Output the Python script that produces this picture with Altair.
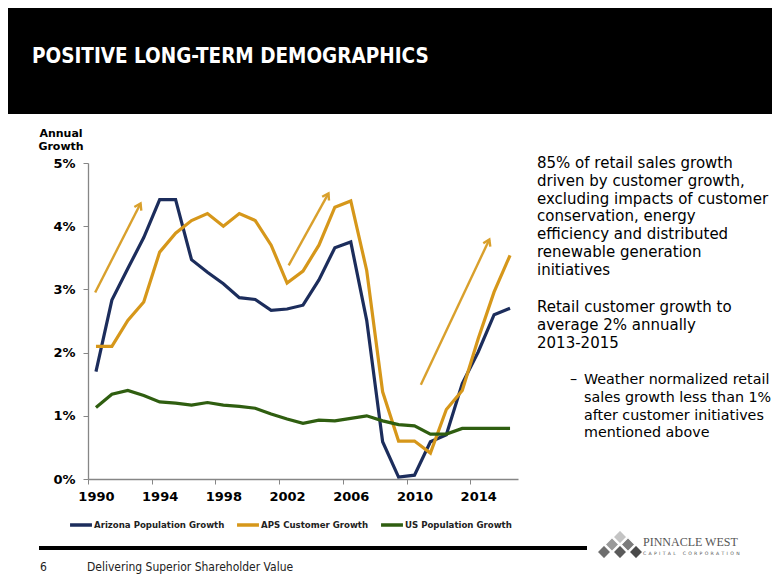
import math
import altair as alt
import pandas as pd

# ---------------- data ----------------
years = list(range(1990, 2017))
arizona = [1.70, 2.83, 3.33, 3.82, 4.42, 4.42, 3.47, 3.27, 3.09, 2.87, 2.84, 2.67, 2.69, 2.75,
           3.15, 3.66, 3.75, 2.51, 0.59, 0.03, 0.06, 0.59, 0.70, 1.51, 2.01, 2.60, 2.70]
aps = [2.10, 2.10, 2.51, 2.80, 3.59, 3.89, 4.09, 4.20, 4.00, 4.20, 4.09, 3.70, 3.10, 3.29,
       3.70, 4.30, 4.40, 3.30, 1.38, 0.60, 0.60, 0.41, 1.10, 1.40, 2.22, 2.96, 3.54]
us = [1.13, 1.34, 1.40, 1.32, 1.22, 1.20, 1.17, 1.21, 1.17, 1.15, 1.12, 1.03, 0.95, 0.88,
      0.93, 0.92, 0.96, 1.00, 0.92, 0.86, 0.84, 0.71, 0.71, 0.80, 0.80, 0.80, 0.80]
series_names = ["Arizona Population Growth", "APS Customer Growth", "US Population Growth"]
series_colors = ["#1C2D5C", "#D6971A", "#2F5E10"]

# trend arrows (year, % growth)
arrow_x1 = [1989.95, 2002.1, 2010.4]
arrow_y1 = [2.95, 3.38, 1.49]
arrow_x2 = [1992.8, 2004.6, 2014.7]
arrow_y2 = [4.36, 4.52, 3.79]

y_ticks = [0, 1, 2, 3, 4, 5]
para1 = ["85% of retail sales growth", "driven by customer growth,", "excluding impacts of customer",
         "conservation, energy", "efficiency and distributed", "renewable generation", "initiatives"]
para2 = ["Retail customer growth to", "average 2% annually", "2013-2015"]
para3 = ["Weather normalized retail", "sales growth less than 1%", "after customer initiatives",
         "mentioned above"]

# ---------------- layout ----------------
W, H = 430, 316
X0, X1 = 1989.5, 2016.5
px_year = W / (X1 - X0)
px_pct = H / 5.0
edge_ticks = [X0 + i for i in range(28)]

df = pd.DataFrame({
    "year": years * 3,
    "value": arizona + aps + us,
    "series": [series_names[0]] * 27 + [series_names[1]] * 27 + [series_names[2]] * 27,
})

angles = [math.degrees(math.atan2((x2 - x1) * px_year, (y2 - y1) * px_pct))
          for x1, y1, x2, y2 in zip(arrow_x1, arrow_y1, arrow_x2, arrow_y2)]
arr = pd.DataFrame({"x1": arrow_x1, "y1": arrow_y1, "x2": arrow_x2, "y2": arrow_y2, "ang": angles})

one = alt.Data(values=[{}])
AXC = "#868686"
FONT = "DejaVu Sans"
COND = "DejaVu Sans Condensed"

x_enc = alt.X("year:Q", scale=alt.Scale(domain=[X0, X1], nice=False, zero=False),
              axis=alt.Axis(title=None, values=edge_ticks, grid=False,
                            labelExpr="(datum.value - 1989.5) % 4 == 0 && datum.value < 2016 ? format(datum.value + 0.5, 'd') : ''",
                            labelOffset=px_year / 2, labelFlush=False, labelOverlap=False, labelBound=False,
                            labelFont=FONT, labelFontWeight="bold", labelFontSize=13, labelColor="black",
                            labelPadding=6, tickSize=5, tickColor=AXC, domainColor=AXC, domainWidth=1.3))
y_enc = alt.Y("value:Q", scale=alt.Scale(domain=[0, 5], nice=False),
              axis=alt.Axis(title=None, values=y_ticks, grid=False, labelExpr="datum.value + '%'",
                            labelFont=FONT, labelFontWeight="bold", labelFontSize=13, labelColor="black",
                            labelPadding=8, tickSize=5, tickColor=AXC, domainColor=AXC, domainWidth=1.3))

lines = alt.Chart(df).mark_line(strokeWidth=3.2).encode(
    x=x_enc, y=y_enc,
    color=alt.Color("series:N", scale=alt.Scale(domain=series_names, range=series_colors),
                    legend=alt.Legend(orient="none", legendX=-20, legendY=349, direction="horizontal",
                                      title=None, symbolType="stroke", symbolSize=480, symbolStrokeWidth=3.5,
                                      labelFont=FONT, labelFontWeight="bold", labelFontSize=8.6,
                                      labelColor="#222222", labelOffset=0, columnPadding=5)),
)

ARROW = "#D9A02C"
arrow_lines = alt.Chart(arr).mark_rule(color=ARROW, strokeWidth=2.4).encode(
    x=alt.X("x1:Q", title=None), y=alt.Y("y1:Q", title=None), x2="x2:Q", y2="y2:Q")
arrow_heads = alt.Chart(arr).mark_point(
    shape="M-0.55,0.85L0,0L0.55,0.85", filled=False, color=ARROW, strokeWidth=2.4, size=200, opacity=1
).encode(x=alt.X("x2:Q", title=None), y=alt.Y("y2:Q", title=None), angle=alt.Angle("ang:Q", scale=None))

band = alt.Chart(one).mark_rect(color="black").encode(
    x=alt.value(-80), x2=alt.value(684), y=alt.value(-155), y2=alt.value(-49))
title = alt.Chart(one).mark_text(text="POSITIVE LONG-TERM DEMOGRAPHICS", font=COND,
                                 fontWeight="bold", fontSize=20.5, color="white", align="left",
                                 baseline="middle").encode(x=alt.value(-56), y=alt.value(-106))
ytitle = alt.Chart(one).mark_text(text=["Annual", "Growth"], font=FONT, fontWeight="bold", fontSize=11,
                                  lineHeight=13, align="center", baseline="middle",
                                  color="black").encode(x=alt.value(-27), y=alt.value(-29))

tx = dict(font=FONT, lineHeight=17.8, align="left", baseline="alphabetic", color="black")
p1 = alt.Chart(one).mark_text(text=para1, fontSize=15, **tx).encode(x=alt.value(449), y=alt.value(5))
p2 = alt.Chart(one).mark_text(text=para2, fontSize=15, **tx).encode(x=alt.value(449), y=alt.value(149))
dash = alt.Chart(one).mark_text(text="\u2013", fontSize=14.3, **tx).encode(x=alt.value(482), y=alt.value(221))
p3 = alt.Chart(one).mark_text(text=para3, fontSize=14.3, **tx).encode(x=alt.value(496), y=alt.value(221))

footer_rule = alt.Chart(one).mark_rule(color="black", strokeWidth=4).encode(
    x=alt.value(-49), x2=alt.value(499), y=alt.value(385))
page_no = alt.Chart(one).mark_text(text="6", font=COND, fontSize=12, align="left",
                                   baseline="middle", color="#222222").encode(x=alt.value(-48), y=alt.value(404))
footer_txt = alt.Chart(one).mark_text(text="Delivering Superior Shareholder Value", font=COND,
                                      fontSize=12, align="left", baseline="middle",
                                      color="#222222").encode(x=alt.value(-1), y=alt.value(404))

logo_df = pd.DataFrame({
    "px": [532, 524, 540, 516, 532, 548],
    "py": [374, 381.5, 381.5, 389, 389, 389],
    "c": ["#c4c4c4", "#9a9a9a", "#7c7c7c", "#6e6e6e", "#5a5a5a", "#4a4a4a"],
})
logo = alt.Chart(logo_df).mark_point(shape="diamond", filled=True, size=190, stroke="white",
                                     strokeWidth=1.2, opacity=1).encode(
    x=alt.X("px:Q", scale=None), y=alt.Y("py:Q", scale=None), fill=alt.Fill("c:N", scale=None))
logo_t1 = alt.Chart(one).mark_text(text="PINNACLE WEST", font="Liberation Serif", fontSize=12,
                                   align="left", baseline="middle", color="#555555").encode(
    x=alt.value(555), y=alt.value(379))
sp = "\u2002"
logo_t2 = alt.Chart(one).mark_text(text=sp.join("CAPITAL") + sp * 3 + sp.join("CORPORATION"),
                                   font="DejaVu Sans", fontSize=4.6, align="left", baseline="middle",
                                   color="#555555").encode(x=alt.value(555), y=alt.value(391))

chart = alt.layer(
    band, title, lines, arrow_lines, arrow_heads, ytitle, p1, p2, dash, p3,
    footer_rule, page_no, footer_txt, logo, logo_t1, logo_t2,
).properties(
    width=W, height=H,
    autosize=alt.AutoSizeParams(type="none"),
    padding={"left": 80, "top": 155, "right": 254, "bottom": 98},
).configure_view(stroke=None)

chart.save("out.html", embed_options={"renderer": "svg", "actions": False})
